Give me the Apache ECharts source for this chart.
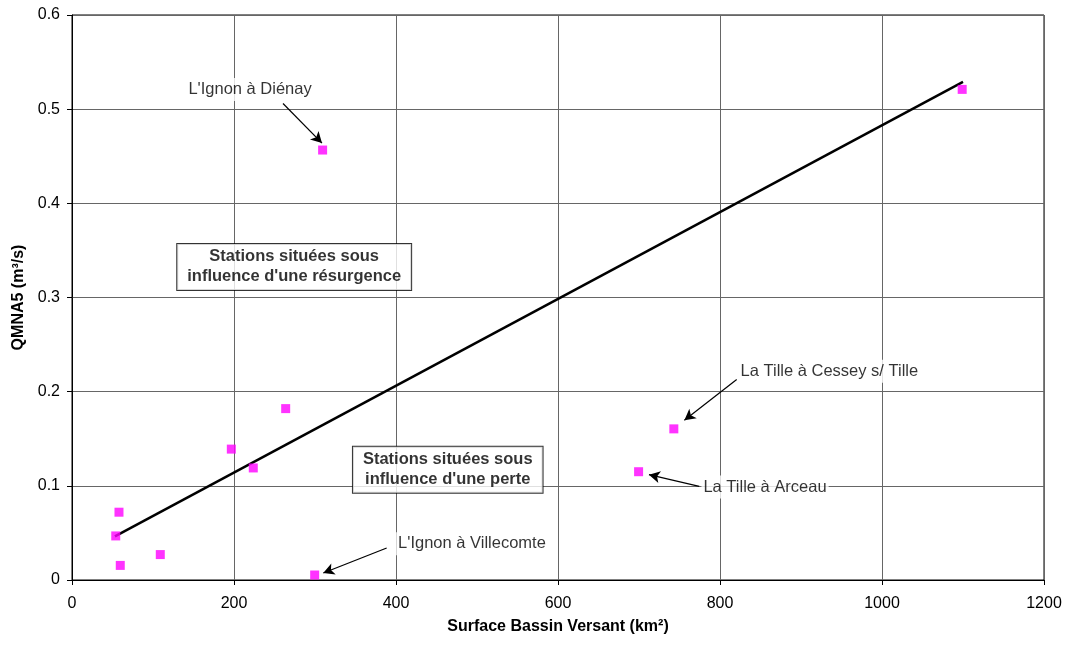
<!DOCTYPE html>
<html><head><meta charset="utf-8">
<script src="https://cdn.jsdelivr.net/npm/echarts@6/dist/echarts.min.js"></script>
<style>html,body{margin:0;padding:0;background:#fff}#c{width:1069px;height:649px}</style>
</head><body><div id="c"></div>
<script>
// Station data: [surface km², QMNA5 m³/s]
const stationsX = [54, 58, 59.6, 109, 196.7, 223.8, 263.8, 299.6, 309.4, 699.5, 743, 1099];
const stationsY = [0.0468, 0.072, 0.0155, 0.027, 0.139, 0.119, 0.182, 0.0053, 0.4566, 0.115, 0.1605, 0.521];
// Trend line endpoints
const trendX = [53, 1100];
const trendY = [0.0464, 0.529];
// Station labels: text, label position, arrow start, arrow end
const labelTexts = ["L'Ignon à Diénay", "L'Ignon à Villecomte", "La Tille à Cessey s/ Tille", "La Tille à Arceau"];
const labelPos = [[219.8, 0.521], [493.8, 0.0386], [935, 0.2217], [855.6, 0.0988]];
const arrowFrom = [[260.5, 0.506], [388.5, 0.034], [820.6, 0.2129], [774.4, 0.0995]];
const arrowTo = [[308.6, 0.464], [310.2, 0.0074], [756, 0.1696], [712.3, 0.1119]];
// Zone boxes
const boxTexts = ["Stations situées sous\ninfluence d'une résurgence", "Stations situées sous\ninfluence d'une perte"];
const boxPos = [[274.3, 0.3325], [463.9, 0.117]];

const xTicks = {min: 0, max: 1200, interval: 200};
const yTicks = {min: 0, max: 0.6, interval: 0.1};

const font = 'Liberation Sans, Arial, sans-serif';
const chart = echarts.init(document.getElementById('c'), null, {renderer: 'canvas'});
chart.setOption({
  animation: false,
  backgroundColor: '#fff',
  grid: {left: 72, top: 15, right: 25, bottom: 69, show: true, borderColor: '#000', borderWidth: 1},
  xAxis: {
    type: 'value', min: xTicks.min, max: xTicks.max, interval: xTicks.interval,
    name: 'Surface Bassin Versant (km²)', nameLocation: 'middle', nameGap: 39,
    nameTextStyle: {fontFamily: font, fontWeight: 'bold', fontSize: 16, color: '#000'},
    axisLine: {lineStyle: {color: '#000', width: 1}},
    axisTick: {show: true, length: 5, lineStyle: {color: '#000'}},
    axisLabel: {fontFamily: font, fontSize: 16, color: '#000', margin: 16, formatter: v => String(v)},
    splitLine: {lineStyle: {color: '#666', width: 1}}
  },
  yAxis: {
    type: 'value', min: yTicks.min, max: yTicks.max, interval: yTicks.interval,
    name: 'QMNA5 (m³/s)', nameLocation: 'middle', nameGap: 44, nameRotate: 90,
    nameTextStyle: {fontFamily: font, fontWeight: 'bold', fontSize: 16, color: '#000'},
    axisLine: {lineStyle: {color: '#000', width: 1}},
    axisTick: {show: true, length: 5, lineStyle: {color: '#000'}},
    axisLabel: {fontFamily: font, fontSize: 16, color: '#000', margin: 12, formatter: v => String(v)},
    splitLine: {lineStyle: {color: '#666', width: 1}}
  },
  series: [
    {
      type: 'line', data: trendX.map((x, i) => [x, trendY[i]]),
      symbol: 'none', lineStyle: {color: '#000', width: 2.5}, silent: true, z: 3
    },
    {
      type: 'scatter', data: stationsX.map((x, i) => [x, stationsY[i]]),
      symbol: 'rect', symbolSize: 9, itemStyle: {color: '#FF00FF'}, z: 4,
      markLine: {
        silent: true, symbol: ['none', 'arrow'], symbolSize: [9, 11],
        label: {show: false},
        lineStyle: {color: '#000', width: 1.2, type: 'solid'},
        data: arrowFrom.map((f, i) => [{coord: f}, {coord: arrowTo[i]}])
      }
    },
    {
      type: 'scatter', silent: true, z: 5,
      data: labelPos.map((p, i) => ({value: p, name: labelTexts[i]})),
      symbolSize: 1, itemStyle: {color: 'rgba(0,0,0,0)'},
      label: {
        show: true, position: 'inside', formatter: p => p.name,
        fontFamily: font, fontSize: 16.5, color: '#000',
        backgroundColor: '#fff', padding: [3, 2]
      }
    },
    {
      type: 'scatter', silent: true, z: 5,
      data: boxPos.map((p, i) => ({value: p, name: boxTexts[i]})),
      symbolSize: 1, itemStyle: {color: 'rgba(0,0,0,0)'},
      label: {
        show: true, position: 'inside', formatter: p => p.name,
        fontFamily: font, fontSize: 16.5, fontWeight: 'bold', color: '#000', lineHeight: 20, align: 'center',
        backgroundColor: '#fff', borderColor: '#000', borderWidth: 1, padding: [3, 10, 3, 10]
      }
    }
  ]
});
</script></body></html>
